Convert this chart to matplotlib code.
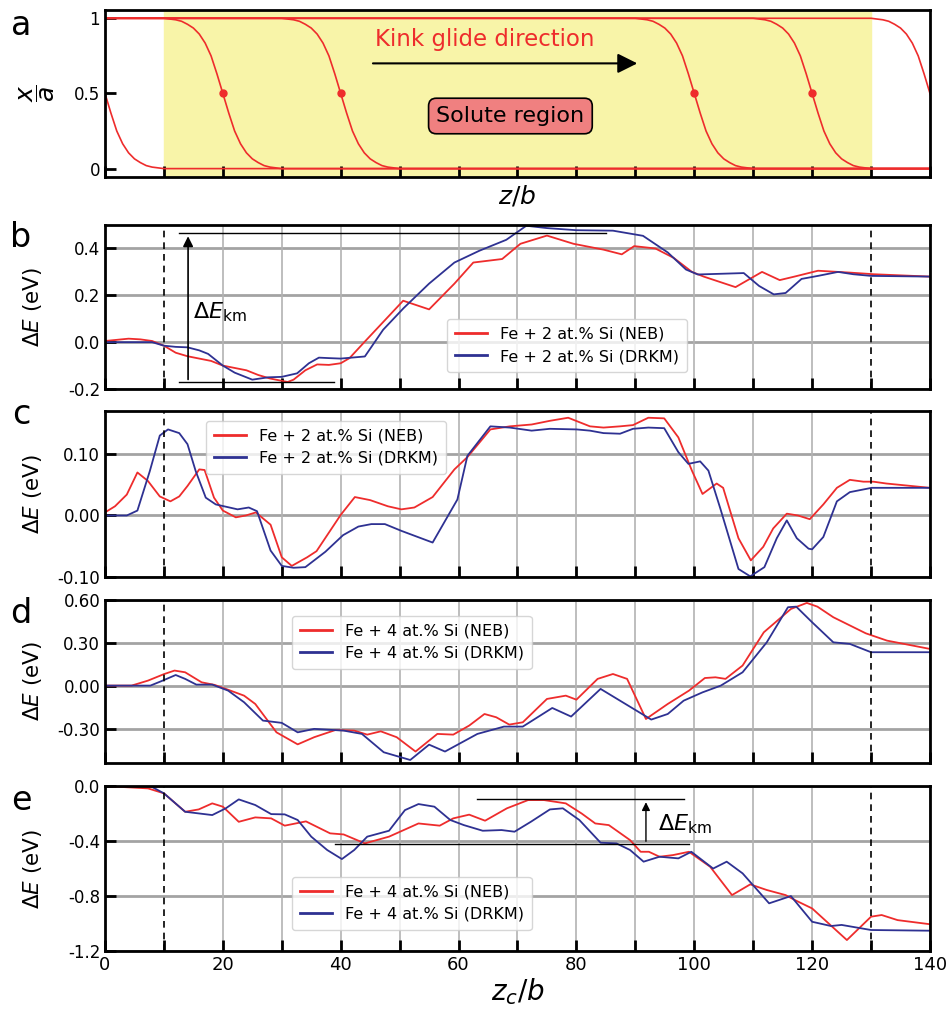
import numpy as np
import matplotlib
matplotlib.use("Agg")
import matplotlib.pyplot as plt

# ---------------------------------------------------------------------------
# data
# ---------------------------------------------------------------------------
RED = '#ee2c2c'
BLUE = '#2e3192'

# panel a: kink profile (offset from kink centre, x/a)
kink_offset = [-10, -9, -8, -7, -6, -5, -4, -3, -2, -1, 0,
               1, 2, 3, 4, 5, 6, 7, 8, 9, 10]
kink_profile = [1.0, 0.995, 0.99, 0.98, 0.96, 0.935, 0.895, 0.835, 0.75, 0.63, 0.5,
                0.37, 0.25, 0.165, 0.105, 0.065, 0.04, 0.02, 0.01, 0.005, 0.0]
kink_centres = [0, 20, 40, 100, 120, 140]
kink_marked = [20, 40, 100, 120]
solute_region = (10, 130)

# panel b: Fe + 2 at.% Si
b_neb_z = [0, 2, 4, 6, 8, 10, 12, 14, 16, 18, 20, 22, 24, 26, 28, 30, 31, 32, 34, 36,
           38, 40, 41.5, 44, 50.6, 55, 59.3, 62.5, 67.4, 70.5, 75, 79.5, 84.6, 87.7,
           89.8, 93.4, 96.5, 99.6, 101.6, 107, 111.5, 114.5, 117, 121, 126.4, 130.5, 140]
b_neb_e = [0.005, 0.01, 0.015, 0.012, 0.005, -0.015, -0.045, -0.06, -0.07, -0.08, -0.10,
           -0.11, -0.12, -0.14, -0.155, -0.165, -0.17, -0.16, -0.12, -0.095, -0.097, -0.09,
           -0.068, 0.0, 0.177, 0.14, 0.25, 0.34, 0.355, 0.42, 0.455, 0.42, 0.395, 0.375,
           0.41, 0.40, 0.36, 0.30, 0.28, 0.235, 0.30, 0.265, 0.28, 0.305, 0.297, 0.29, 0.28]
b_drkm_z = [0, 8, 10, 12, 14, 16, 17.5, 20, 22, 25, 27.7, 30, 32.6, 34.6, 36.3, 38, 40,
            44.1, 47.2, 50.7, 55, 59.3, 63.5, 68.1, 71.5, 75, 80, 86.2, 91.3, 95.5, 98.6,
            100.6, 108.4, 111, 113.5, 115.5, 118.2, 121, 124.4, 127, 130, 140]
b_drkm_e = [0.0, 0.0, -0.015, -0.02, -0.022, -0.035, -0.05, -0.10, -0.13, -0.16, -0.15,
            -0.148, -0.133, -0.09, -0.066, -0.068, -0.07, -0.061, 0.053, 0.146, 0.25, 0.34,
            0.39, 0.437, 0.497, 0.487, 0.478, 0.476, 0.454, 0.383, 0.31, 0.289, 0.295, 0.24,
            0.204, 0.21, 0.27, 0.283, 0.30, 0.29, 0.283, 0.28]
b_ekm = (12.5, 85.0, 38.9, -0.171, 0.464)   # top-line end, bottom-line end, levels

# panel c: Fe + 2 at.% Si (second configuration)
c_neb_z = [0, 1.7, 3.7, 5.5, 7.3, 9.3, 11.1, 12.6, 14, 16, 16.9, 18.5, 20, 22.2, 23.9,
           25.6, 28.1, 30, 31.7, 34.3, 35.9, 40, 42.4, 45, 48, 50.3, 52.5, 55.6, 59.3,
           61.5, 65.4, 68.7, 72.4, 75.5, 78.6, 82.3, 84.6, 87.4, 89.6, 92.2, 94.9, 97.3,
           99.6, 101.4, 103.8, 104.9, 107.5, 109.6, 111.7, 113.4, 115.7, 117.6, 119.6,
           121.9, 124.2, 126.4, 128.7, 130.4, 132.6, 140]
c_neb_e = [0.005, 0.015, 0.034, 0.07, 0.056, 0.031, 0.023, 0.031, 0.048, 0.075, 0.074,
           0.029, 0.008, -0.003, 0.0, 0.005, -0.015, -0.068, -0.082, -0.068, -0.058, 0.001,
           0.03, 0.025, 0.015, 0.01, 0.013, 0.03, 0.075, 0.095, 0.14, 0.145, 0.148, 0.154,
           0.159, 0.145, 0.143, 0.145, 0.147, 0.159, 0.158, 0.127, 0.073, 0.035, 0.052,
           0.045, -0.037, -0.073, -0.051, -0.021, 0.003, 0.0, -0.006, 0.018, 0.045, 0.058,
           0.055, 0.055, 0.052, 0.045]
c_drkm_z = [0, 3.7, 5.5, 7.6, 9.3, 10.7, 12.6, 14, 15.4, 17.1, 18.8, 22.5, 24.4, 25.8,
            28.1, 30, 32, 34, 37.4, 40.4, 43, 45.2, 47.5, 50.3, 55.6, 59.8, 61.5, 65.4,
            68.7, 72.4, 75.5, 80, 82.3, 84.6, 87.4, 89.6, 92.2, 94.9, 97.3, 99, 101, 102.4,
            104.4, 107.5, 109.5, 111.9, 114, 115.7, 117.4, 119.4, 120, 121.9, 124.2, 126.4,
            130.1, 140]
c_drkm_e = [0.0, 0.0, 0.008, 0.072, 0.130, 0.14, 0.134, 0.116, 0.072, 0.029, 0.018, 0.010,
            0.013, 0.007, -0.057, -0.082, -0.085, -0.084, -0.059, -0.032, -0.018, -0.014,
            -0.014, -0.025, -0.044, 0.026, 0.097, 0.145, 0.143, 0.138, 0.141, 0.14, 0.138,
            0.134, 0.133, 0.141, 0.143, 0.142, 0.103, 0.084, 0.088, 0.073, 0.012, -0.087,
            -0.099, -0.084, -0.037, -0.008, -0.037, -0.054, -0.055, -0.035, 0.023, 0.038,
            0.045, 0.045]

# panel d: Fe + 4 at.% Si
d_neb_z = [0, 4.5, 7.3, 10, 11.8, 13.6, 16.4, 18.6, 20.5, 23.6, 25.5, 29.1, 32.7, 35.5,
           39.1, 42.3, 44.5, 46.8, 49.5, 52.7, 56.4, 59.1, 61.8, 64.4, 66.4, 68.6, 70.9,
           75, 78.2, 80, 83.6, 86.2, 88.6, 91.8, 95.5, 99.1, 101.8, 103.6, 105.3, 108.2,
           111.8, 116.4, 119.1, 120.9, 123.6, 129.1, 132.7, 140]
d_neb_e = [0.0, 0.0, 0.035, 0.08, 0.105, 0.093, 0.023, 0.005, -0.023, -0.07, -0.128,
           -0.326, -0.41, -0.36, -0.31, -0.314, -0.342, -0.319, -0.36, -0.46, -0.337,
           -0.342, -0.279, -0.198, -0.221, -0.272, -0.256, -0.093, -0.07, -0.098, 0.047,
           0.081, 0.047, -0.233, -0.128, -0.035, 0.053, 0.058, 0.047, 0.14, 0.372, 0.535,
           0.577, 0.551, 0.477, 0.365, 0.314, 0.256]
d_drkm_z = [0, 7.7, 9.5, 12, 13.6, 15.5, 18.2, 20.9, 23.6, 26.8, 30, 32.7, 35.5, 40.5,
            43.6, 47.3, 51.8, 55, 57.7, 63.2, 67.7, 70.9, 75.9, 79.1, 84.1, 88.6, 92.7,
            95.5, 98.2, 101.4, 104.5, 108.2, 112.3, 115.9, 117.3, 120, 123.6, 126.4, 130, 140]
d_drkm_e = [0.0, 0.0, 0.03, 0.074, 0.047, 0.007, 0.007, -0.035, -0.116, -0.244, -0.26,
            -0.326, -0.302, -0.314, -0.337, -0.465, -0.519, -0.412, -0.46, -0.337, -0.286,
            -0.286, -0.156, -0.216, -0.023, -0.135, -0.237, -0.198, -0.105, -0.047, 0.0,
            0.093, 0.302, 0.547, 0.551, 0.442, 0.302, 0.291, 0.233, 0.233]

# panel e: Fe + 4 at.% Si (second configuration)
e_neb_z = [0, 7.3, 10, 13.6, 15.9, 18.2, 20, 22.7, 25.5, 28.2, 30.5, 34.1, 38.2, 40.5,
           44.1, 48.2, 53.2, 56.8, 59.1, 61.8, 64.5, 68.2, 71.8, 74.5, 78.2, 80.9, 83.2,
           85.5, 89.1, 90.9, 92.3, 94.1, 96.4, 99.1, 102.7, 106.4, 109.5, 112.3, 115.5,
           117.3, 120, 125.9, 130, 131.8, 134.5, 140]
e_neb_e = [0.0, -0.017, -0.053, -0.187, -0.17, -0.126, -0.15, -0.26, -0.228, -0.235,
           -0.288, -0.257, -0.344, -0.352, -0.417, -0.368, -0.272, -0.288, -0.235, -0.208,
           -0.252, -0.162, -0.102, -0.102, -0.126, -0.2, -0.272, -0.284, -0.393, -0.478,
           -0.478, -0.514, -0.502, -0.478, -0.587, -0.793, -0.715, -0.756, -0.793, -0.834,
           -0.89, -1.12, -0.95, -0.938, -0.975, -1.005]
e_drkm_z = [0, 7.7, 10, 13.6, 18.2, 20.5, 22.7, 25.5, 28.2, 30.5, 32.7, 35, 37.7, 40.2,
            42.3, 44.5, 48.2, 50.9, 53.2, 55.9, 58.6, 60.9, 64.1, 67.3, 69.5, 72.3, 75.5,
            77.7, 80.5, 84.1, 86.8, 89.1, 91.4, 94.1, 97.3, 99.5, 103.2, 105.5, 108.2,
            112.7, 116.4, 120, 123.2, 125, 130, 140]
e_drkm_e = [0.0, 0.0, -0.053, -0.187, -0.211, -0.162, -0.097, -0.138, -0.204, -0.206,
            -0.247, -0.368, -0.465, -0.531, -0.465, -0.368, -0.325, -0.175, -0.131, -0.15,
            -0.247, -0.284, -0.325, -0.32, -0.332, -0.259, -0.17, -0.162, -0.247, -0.412,
            -0.417, -0.465, -0.55, -0.514, -0.526, -0.478, -0.6, -0.55, -0.635, -0.853,
            -0.8, -0.987, -1.018, -1.01, -1.047, -1.052]
e_ekm = (63.2, 98.2, 39.1, 99.1, -0.422, -0.097)

# ---------------------------------------------------------------------------
plt.rcParams['font.family'] = 'DejaVu Sans'
plt.rcParams['font.size'] = 12
plt.rcParams['axes.linewidth'] = 2
plt.rcParams['mathtext.fontset'] = 'dejavusans'

Z_MIN, Z_MAX = 0, 140
X_TICKS = np.arange(0, 141, 10)
DASHED = [10, 130]

fig = plt.figure(figsize=(9.51, 10.11), dpi=100)
left, width = 0.1104, 0.8675
ax_a = fig.add_axes([left, 0.8249, width, 0.1652])
ax_b = fig.add_axes([left, 0.6152, width, 0.1622])
ax_c = fig.add_axes([left, 0.4293, width, 0.1642])
ax_d = fig.add_axes([left, 0.2453, width, 0.1616])
ax_e = fig.add_axes([left, 0.0593, width, 0.1632])


def style_axis(ax):
    ax.set_xlim(Z_MIN, Z_MAX)
    ax.set_xticks(X_TICKS)
    ax.tick_params(axis='both', which='major', direction='in', length=8, width=2,
                   labelsize=12)


# ---- panel a --------------------------------------------------------------
style_axis(ax_a)
ax_a.axvspan(*solute_region, color='#f8f4a8', zorder=0)
for zc in kink_centres:
    zs = [Z_MIN] + [zc + o for o in kink_offset] + [Z_MAX]
    xs = [kink_profile[0]] + kink_profile + [kink_profile[-1]]
    ax_a.plot(zs, xs, color=RED, lw=1.2)
ax_a.plot(kink_marked, [0.5] * len(kink_marked), 'o', color=RED, ms=5)
ax_a.set_ylim(-0.056, 1.055)
ax_a.set_yticks([0, 0.5, 1])
ax_a.set_yticklabels(['0', '0.5', '1'])
ax_a.set_xticklabels([])
ax_a.set_xlabel('$z/b$', fontsize=18, labelpad=1)
ax_a.set_ylabel(r'$\dfrac{x}{a}$', fontsize=18, rotation=90)
ax_a.yaxis.set_label_coords(-0.058, 0.5)
ax_a.text(64.5, 0.86, 'Kink glide direction', color=RED, fontsize=16.5,
          ha='center', va='center')
ax_a.annotate('', xy=(90.8, 0.70), xytext=(45, 0.70),
              arrowprops=dict(arrowstyle='-|>', color='k', lw=1.5, mutation_scale=30))
ax_a.text(68.8, 0.35, 'Solute region', fontsize=16, ha='center', va='center',
          bbox=dict(boxstyle='round,pad=0.35', fc='#f08080', ec='k', lw=1.2))


# ---- energy panels --------------------------------------------------------
def energy_panel(ax, neb, drkm, labels, ylim, yticks, yfmt, leg_loc, leg_anchor):
    style_axis(ax)
    ax.plot(neb[0], neb[1], color=RED, lw=1.3, label=labels[0])
    ax.plot(drkm[0], drkm[1], color=BLUE, lw=1.3, label=labels[1])
    for zd in DASHED:
        ax.axvline(zd, color='k', ls=(0, (4, 3)), lw=1.2, zorder=3)
    ax.set_ylim(*ylim)
    ax.set_yticks(yticks)
    ax.set_yticklabels([yfmt.format(v) for v in yticks])
    for v in yticks:
        ax.axhline(v, color='#a3a3a3', lw=2, zorder=0)
    for v in X_TICKS:
        if v not in DASHED:
            ax.axvline(v, color='#b3b3b3', lw=1.2, zorder=0)
    ax.set_xticklabels([])
    ax.set_ylabel(r'$\Delta E$ (eV)', fontsize=15.5)
    ax.yaxis.set_label_coords(-0.074, 0.5)
    leg = ax.legend(loc=leg_loc, bbox_to_anchor=leg_anchor, fontsize=11.5,
                    handlelength=2.0, borderpad=0.5, labelspacing=0.45)
    for line in leg.get_lines():
        line.set_linewidth(2)
    return ax


lab2 = ['Fe + 2 at.% Si (NEB)', 'Fe + 2 at.% Si (DRKM)']
lab4 = ['Fe + 4 at.% Si (NEB)', 'Fe + 4 at.% Si (DRKM)']

energy_panel(ax_b, (b_neb_z, b_neb_e), (b_drkm_z, b_drkm_e), lab2,
             (-0.2, 0.5), [-0.2, 0.0, 0.2, 0.4], '{:.1f}', 'lower left', (0.405, 0.055))
energy_panel(ax_c, (c_neb_z, c_neb_e), (c_drkm_z, c_drkm_e), lab2,
             (-0.1, 0.17), [-0.1, 0.0, 0.1], '{:.2f}', 'upper left', (0.113, 0.99))
energy_panel(ax_d, (d_neb_z, d_neb_e), (d_drkm_z, d_drkm_e), lab4,
             (-0.54, 0.6), [-0.3, 0.0, 0.3, 0.6], '{:.2f}', 'upper left', (0.217, 0.95))
energy_panel(ax_e, (e_neb_z, e_neb_e), (e_drkm_z, e_drkm_e), lab4,
             (-1.2, 0.0), [-1.2, -0.8, -0.4, 0.0], '{:.1f}', 'lower left', (0.217, 0.08))

# Delta E_km markers
z_top, z_top_end, z_bot_end, e_bot, e_top = b_ekm
ax_b.plot([z_top, z_top_end], [e_top, e_top], color='k', lw=1)
ax_b.plot([z_top, z_bot_end], [e_bot, e_bot], color='k', lw=1)
ax_b.annotate('', xy=(14.1, e_top), xytext=(14.1, e_bot),
              arrowprops=dict(arrowstyle='-|>', color='k', lw=1.2, mutation_scale=15))
ax_b.text(15.0, 0.13, r'$\Delta E_{\rm km}$', fontsize=16, ha='left', va='center')

ze0, ze1, zb0, zb1, eb, et = e_ekm
ax_e.plot([ze0, ze1], [et, et], color='k', lw=1)
ax_e.plot([zb0, zb1], [eb, eb], color='k', lw=1)
ax_e.annotate('', xy=(91.8, et), xytext=(91.8, eb),
              arrowprops=dict(arrowstyle='-|>', color='k', lw=1, mutation_scale=12))
ax_e.text(93.8, -0.28, r'$\Delta E_{\rm km}$', fontsize=16, ha='left', va='center')

ax_e.set_xticklabels([str(v) if v % 20 == 0 else '' for v in X_TICKS], fontsize=13)
ax_e.set_xlabel('$z_c/b$', fontsize=20, labelpad=2)

for letter, ypos in zip('abcde', [0.975, 0.765, 0.59, 0.393, 0.208]):
    fig.text(0.022, ypos, letter, fontsize=24, ha='center', va='center')

fig.savefig('out.png', dpi=100)
